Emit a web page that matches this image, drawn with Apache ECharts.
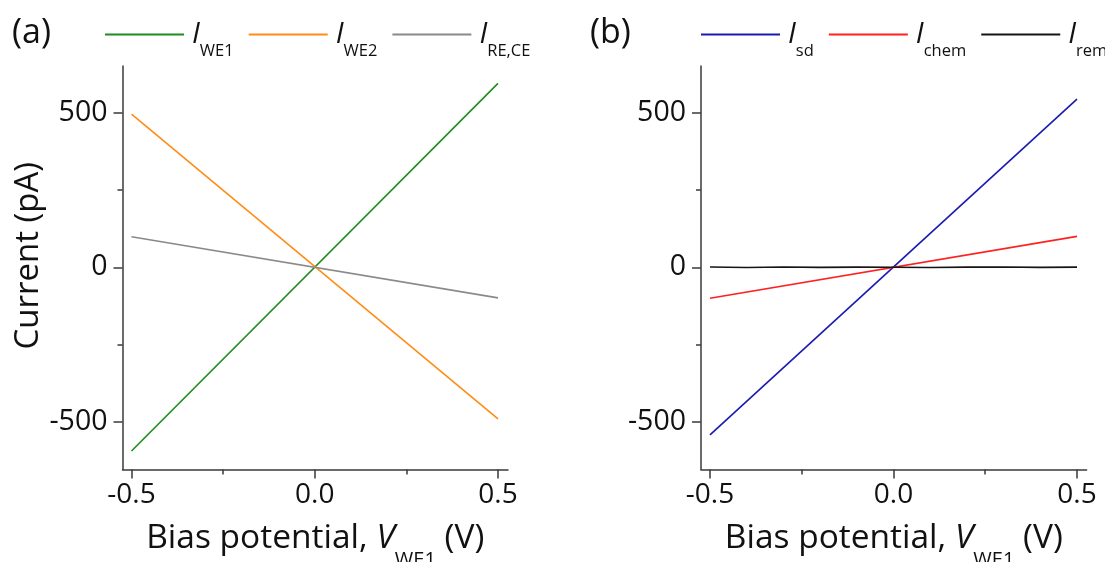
<!DOCTYPE html>
<html><head><meta charset="utf-8">
<script src="https://cdn.jsdelivr.net/npm/echarts@6/dist/echarts.min.js"></script>
<style>html,body{margin:0;padding:0;background:#fff}#c{width:1105px;height:562px}</style>
</head><body><div id="c"></div>
<script>
// ---- data ----
const biasV = [-0.5, 0.5];
const iWE1 = [-594, 595];
const iWE2 = [495, -490];
const iRECE = [99, -99];
const iSd = [-542, 544];
const iChem = [-100, 100];
const remV = [-0.5, -0.4, -0.3, -0.2, -0.1, 0, 0.1, 0.2, 0.3, 0.4, 0.5];
const iRem = [0.8, -0.6, 1.0, -0.4, 0.5, 0, -0.9, 0.6, 1.1, -0.3, 0.5];
const xTicks = [-0.5, 0, 0.5];
const xMinor = [-0.25, 0.25];
const yTicks = [-500, 0, 500];
const yMinor = [-250, 250];
const namesA = ['WE1', 'WE2', 'RE,CE'];
const namesB = ['sd', 'chem', 'rem'];

const FONT = 'Open Sans';
const AX = '#3a3a3a';
const zip = (xs, ys) => xs.map((x, i) => [x, ys[i]]);

const X_MIN = [-0.5246, -0.5245], X_MAX = [0.5273, 0.5262];
const Y_MIN = -654, Y_MAX = 651;

function xMain(g) {
  return {
    type: 'value', gridIndex: g, position: 'bottom', min: X_MIN[g], max: X_MAX[g],
    axisLine: {show: true, onZero: false, lineStyle: {color: AX, width: 1.5}},
    axisTick: {show: true, customValues: xTicks, length: 9, lineStyle: {color: AX, width: 1.5}},
    axisLabel: {show: true, customValues: xTicks, margin: 12, color: '#111', fontFamily: FONT, fontSize: 28,
      formatter: v => v.toFixed(1)},
    splitLine: {show: false},
    name: 'Bias potential, {v|V}{s|WE1} (V)', nameLocation: 'middle', nameGap: 37,
    nameTextStyle: {fontFamily: FONT, fontSize: 33.5, color: '#111',
      rich: {v: {fontFamily: FONT, fontSize: 33.5, fontStyle: 'italic', color: '#111'},
             s: {fontFamily: FONT, fontSize: 20, color: '#111', padding: [44, 0, 0, 0]}}}
  };
}
function xMin(g) {
  return {
    type: 'value', gridIndex: g, position: 'bottom', min: X_MIN[g], max: X_MAX[g],
    axisLine: {show: false, onZero: false},
    axisTick: {show: true, customValues: xMinor, length: 5, lineStyle: {color: AX, width: 1.5}},
    axisLabel: {show: false}, splitLine: {show: false}
  };
}
function yMain(g) {
  const o = {
    type: 'value', gridIndex: g, position: 'left', min: Y_MIN, max: Y_MAX,
    axisLine: {show: true, onZero: false, lineStyle: {color: AX, width: 1.5}},
    axisTick: {show: true, customValues: yTicks, length: 9, lineStyle: {color: AX, width: 1.5}},
    axisLabel: {show: true, customValues: yTicks, margin: 15, color: '#111', fontFamily: FONT, fontSize: 28.5},
    splitLine: {show: false}
  };
  if (g === 0) {
    o.name = 'Current (pA)';
    o.nameLocation = 'middle';
    o.nameGap = 77;
    o.nameTextStyle = {fontFamily: FONT, fontSize: 33, color: '#111', padding: [0, 0, 0, 24]};
  }
  return o;
}
function yMin(g) {
  return {
    type: 'value', gridIndex: g, position: 'left', min: Y_MIN, max: Y_MAX,
    axisLine: {show: false, onZero: false},
    axisTick: {show: true, customValues: yMinor, length: 5, lineStyle: {color: AX, width: 1.5}},
    axisLabel: {show: false}, splitLine: {show: false}
  };
}
function line(name, data, color, g) {
  return {type: 'line', name: name, data: data, xAxisIndex: g, yAxisIndex: g,
    symbol: 'none', showSymbol: false, lineStyle: {color: color, width: 1.6}, itemStyle: {color: color},
    animation: false, z: 3};
}
function legend(names, left, width) {
  return {
    data: names, left: left, top: 20, width: width, itemWidth: 79, itemHeight: 2, itemGap: 15, icon: 'rect',
    selectedMode: false, padding: 0,
    formatter: n => '{i|I}{s|' + n + '}',
    textStyle: {padding: [0, 0, 0, 3],
      rich: {i: {fontFamily: FONT, fontSize: 29, fontStyle: 'italic', color: '#111'},
             s: {fontFamily: FONT, fontSize: 16.5, color: '#111', padding: [33, 0, 0, 0]}}}
  };
}

const option = {
  backgroundColor: '#fff',
  animation: false,
  title: [
    {text: '(a)', left: 7, top: 11, textStyle: {fontFamily: FONT, fontSize: 34, fontWeight: 'normal', color: '#111'}},
    {text: '(b)', left: 585, top: 11, textStyle: {fontFamily: FONT, fontSize: 34, fontWeight: 'normal', color: '#111'}}
  ],
  legend: [legend(namesA, 105, 480), legend(namesB, 701, 440)],
  grid: [
    {left: 122.5, top: 66, width: 385.5, height: 403.5, containLabel: false, outerBoundsMode: 'none'},
    {left: 701, top: 66, width: 385.6, height: 403.5, containLabel: false, outerBoundsMode: 'none'}
  ],
  xAxis: [xMain(0), xMain(1), xMin(0), xMin(1)],
  yAxis: [yMain(0), yMain(1), yMin(0), yMin(1)],
  series: [
    line(namesA[0], zip(biasV, iWE1), '#1E8C1E', 0),
    line(namesA[1], zip(biasV, iWE2), '#FF8C14', 0),
    line(namesA[2], zip(biasV, iRECE), '#8A8A8A', 0),
    line(namesB[0], zip(biasV, iSd), '#1A1AB0', 1),
    line(namesB[1], zip(biasV, iChem), '#FF2020', 1),
    line(namesB[2], zip(remV, iRem), '#151515', 1)
  ]
};
const chart = echarts.init(document.getElementById('c'), null, {renderer: 'canvas'});
chart.setOption(option);
</script></body></html>
